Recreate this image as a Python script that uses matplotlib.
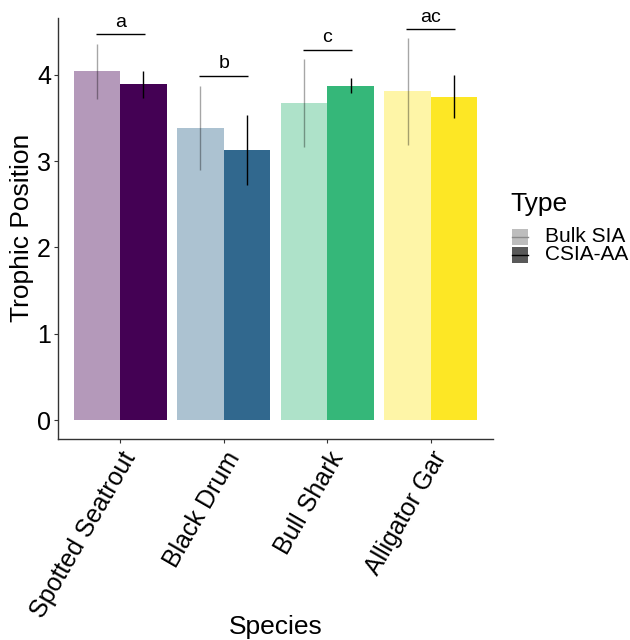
import numpy as np
import matplotlib
matplotlib.use("Agg")
import matplotlib.pyplot as plt
from matplotlib.patches import Rectangle
from matplotlib.lines import Line2D

plt.rcParams["font.family"] = ["Liberation Sans", "DejaVu Sans"]

species = ["Spotted Seatrout", "Black Drum", "Bull Shark", "Alligator Gar"]
types = ["Bulk SIA", "CSIA-AA"]
base_colors = ["#440154", "#31688E", "#35B779", "#FDE725"]

bulk_mean = [4.04, 3.39, 3.68, 3.81]
bulk_lo = [3.72, 2.90, 3.17, 3.19]
bulk_hi = [4.36, 3.87, 4.19, 4.43]
csia_mean = [3.89, 3.13, 3.87, 3.75]
csia_lo = [3.73, 2.73, 3.79, 3.50]
csia_hi = [4.05, 3.53, 3.96, 4.00]

letters = ["a", "b", "c", "ac"]
letter_y = [4.47, 3.99, 4.29, 4.53]

W, H = 630, 640
fig = plt.figure(figsize=(W / 100, H / 100), dpi=100)
ax = fig.add_axes([58 / W, 1 - 439 / H, 435 / W, 421 / H])

x = np.arange(1, len(species) + 1)
w = 0.45

for i, xi in enumerate(x):
    c = base_colors[i]
    ax.bar(xi - w / 2, bulk_mean[i], width=w, color=c, alpha=0.4, linewidth=0)
    ax.bar(xi + w / 2, csia_mean[i], width=w, color=c, linewidth=0)
    ax.vlines(xi - w / 2, bulk_lo[i], bulk_hi[i], color="black", alpha=0.35, lw=1)
    ax.vlines(xi + w / 2, csia_lo[i], csia_hi[i], color="black", lw=1)
    # significance brackets
    ax.hlines(letter_y[i], xi - 0.236, xi + 0.236, color="black", lw=1)
    ax.text(xi, letter_y[i] + 0.04, letters[i], ha="center", va="bottom", fontsize=14)

ax.set_xlim(0.4, 4.6)
ax.set_ylim(-0.22, 4.66)
ax.set_xticks(x)
ax.set_xticklabels(species, rotation=60, ha="right", rotation_mode="anchor", fontsize=18)
ax.set_yticks([0, 1, 2, 3, 4])
ax.tick_params(axis="y", labelsize=18, length=3, pad=2, color="#333333")
ax.tick_params(axis="x", length=3, pad=3, color="#333333")
for s in ["top", "right"]:
    ax.spines[s].set_visible(False)
for s in ["left", "bottom"]:
    ax.spines[s].set_color("#333333")
    ax.spines[s].set_linewidth(1.0)

fig.text(275.5 / W, 1 - 627 / H, "Species", fontsize=19, ha="center", va="center")
fig.text(22 / W, 1 - 228 / H, "Trophic Position", fontsize=19, ha="center",
         va="center", rotation=90)

# legend
fig.text(510 / W, 1 - 204 / H, "Type", fontsize=19, ha="left", va="center")
key_fill = ["#BDBDBD", "#595959"]
key_line = ["#8A8A8A", "black"]
for k, lab in enumerate(types):
    yc = 237 + 18 * k
    fig.add_artist(Rectangle((512 / W, 1 - (yc + 8) / H), 16 / W, 16 / H,
                             transform=fig.transFigure, facecolor=key_fill[k],
                             edgecolor="none"))
    fig.add_artist(Line2D([512 / W, 528 / W], [1 - yc / H, 1 - yc / H],
                          transform=fig.transFigure, color=key_line[k], lw=1))
    fig.text(545 / W, 1 - yc / H, lab, fontsize=15, ha="left", va="center")

fig.savefig("out.png", dpi=100)
